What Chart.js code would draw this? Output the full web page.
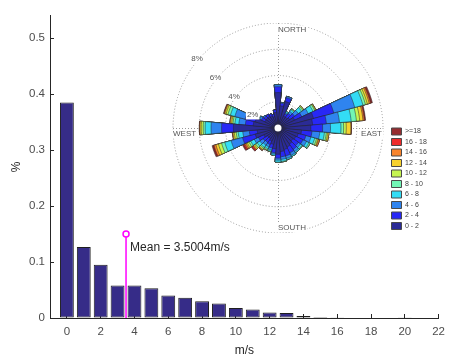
<!DOCTYPE html>
<html lang="en">
<head>
    <meta charset="UTF-8">
    <title>Wind Speed Distribution</title>
    <script src="https://cdn.jsdelivr.net/npm/chart.js"></script>
    <style>
        body {
            margin: 0;
            background: #fff;
        }
        .frame {
            position: relative;
            width: 456px;
            height: 360px;
        }
        #roseChart {
            position: absolute;
            left: 168px;
            top: 23px;
        }
    </style>
</head>
<body>
    <div class="frame">
        <canvas id="histChart" width="456" height="360"></canvas>
        <canvas id="roseChart" width="265" height="210"></canvas>
    </div>

    <script>
        // histogram of wind speed (1 m/s bins)
        const speedValues = [0, 1, 2, 3, 4, 5, 6, 7, 8, 9, 10, 11, 12, 13, 14, 15, 16, 17, 18, 19, 20, 21];
        const speedShare = [0.385, 0.127, 0.095, 0.058, 0.058, 0.053, 0.040, 0.036, 0.030, 0.026, 0.018,
                            0.015, 0.010, 0.009, 0.0035, 0.0018, 0.0012, 0.0008, 0.0010, 0, 0.0012, 0];
        const meanSpeed = 3.5004;
        const meanStemHeight = 0.15;

        // wind rose: direction sectors (degrees from north) and % per speed class
        const directions = [0, 10, 20, 30, 40, 50, 60, 70, 80, 90, 100, 110, 120, 130, 140, 150, 160, 170,
                            180, 190, 200, 210, 220, 230, 240, 250, 260, 270, 280, 290, 300, 310, 320, 330, 340, 350];
        const speedClasses = ['0 - 2', '2 - 4', '4 - 6', '6 - 8', '8 - 10', '10 - 12', '12 - 14', '14 - 16', '16 - 18', '>=18'];
        const rose0to2 = [2.7, 1.7, 2.1, 1.0, 1.0, 1.1, 1.4, 2.8, 2.65, 2.5, 1.8, 1.6, 1.5, 1.4, 1.5, 1.6, 1.7, 1.8,
                          2.0, 1.6, 1.3, 1.1, 1.0, 1.0, 1.2, 1.8, 1.6, 3.4, 1.9, 1.8, 1.1, 1.1, 1.1, 1.0, 0.9, 1.2];
        const rose2to4 = [0.45, 0.2, 0.3, 0.2, 0.35, 0.45, 0.6, 1.6, 1.05, 0.9, 0.8, 0.6, 0.6, 0.5, 0.5, 0.5, 0.5, 0.4,
                          0.3, 0.3, 0.3, 0.3, 0.35, 0.4, 0.45, 1.0, 0.6, 0.9, 0.6, 0.8, 0.3, 0.2, 0.2, 0.2, 0.2, 0.2];
        const rose4to6 = [0.15, 0.05, 0.1, 0.1, 0.2, 0.35, 0.55, 1.65, 1.0, 0.6, 0.6, 0.4, 0.3, 0.2, 0.2, 0.2, 0.2, 0.2,
                          0.15, 0.1, 0.15, 0.2, 0.25, 0.3, 0.35, 0.9, 0.5, 0.8, 0.5, 0.8, 0.15, 0.1, 0, 0, 0, 0];
        const rose6to8 = [0, 0, 0, 0.1, 0.15, 0.3, 0.4, 0.65, 0.9, 0.8, 0.35, 0.3, 0.2, 0.15, 0.1, 0.1, 0.1, 0.15,
                          0.15, 0.1, 0.1, 0.15, 0.2, 0.25, 0.3, 0.5, 0.35, 0.45, 0.3, 0.35, 0.05, 0, 0, 0, 0, 0];
        const rose8to10 = [0, 0, 0, 0, 0.07, 0.12, 0.15, 0.2, 0.4, 0.2, 0.15, 0.15, 0.1, 0.05, 0, 0, 0, 0.05,
                           0, 0, 0.05, 0.1, 0.1, 0.15, 0.15, 0.25, 0.15, 0.15, 0.15, 0.2, 0, 0, 0, 0, 0, 0];
        const rose10to12 = [0, 0, 0, 0, 0.03, 0.08, 0.07, 0.15, 0.25, 0.2, 0.1, 0.1, 0, 0, 0, 0, 0, 0,
                            0, 0, 0, 0.05, 0.1, 0.1, 0.15, 0.25, 0.15, 0.15, 0.1, 0.15, 0, 0, 0, 0, 0, 0];
        const rose12to14 = [0, 0, 0, 0, 0, 0, 0.03, 0.15, 0.25, 0.35, 0.1, 0.05, 0, 0, 0, 0, 0, 0,
                            0, 0, 0, 0, 0.05, 0.1, 0.1, 0.2, 0.1, 0.1, 0.1, 0.1, 0, 0, 0, 0, 0, 0];
        const rose14to16 = [0, 0, 0, 0, 0, 0, 0, 0.1, 0.1, 0.03, 0, 0.1, 0, 0, 0, 0, 0, 0,
                            0, 0, 0, 0, 0.05, 0.05, 0.1, 0.15, 0.05, 0.03, 0.05, 0.05, 0, 0, 0, 0, 0, 0];
        const rose16to18 = [0, 0, 0, 0, 0, 0, 0, 0.05, 0.05, 0.01, 0, 0, 0, 0, 0, 0, 0, 0,
                            0, 0, 0, 0, 0, 0.1, 0.1, 0.05, 0, 0.01, 0, 0.02, 0, 0, 0, 0, 0, 0];
        const rose18up = [0, 0, 0, 0, 0, 0, 0, 0.1, 0.05, 0.01, 0, 0, 0, 0, 0, 0, 0, 0,
                          0, 0, 0, 0, 0, 0.05, 0.1, 0.1, 0, 0.01, 0, 0.03, 0, 0, 0, 0, 0, 0];
        const ringValues = [2, 4, 6, 8];
        const compassLabels = ['NORTH', 'EAST', 'SOUTH', 'WEST'];

        const classColors = ['#2b2b96', '#2828f5', '#2f84ef', '#33dcf5', '#72f5b5',
                             '#c6f551', '#f7d12f', '#f7842d', '#ee2c2c', '#962d30'];
        const fontFamily = "'Liberation Sans', Arial, sans-serif";

        // ---------- histogram ----------
        const meanLabel = {
            id: 'meanLabel',
            afterDatasetsDraw(chart) {
                const { ctx, scales: { x, y } } = chart;
                ctx.save();
                ctx.font = '12px ' + fontFamily;
                ctx.fillStyle = '#262626';
                ctx.textBaseline = 'middle';
                ctx.fillText('Mean = ' + meanSpeed + 'm/s', x.getPixelForValue(meanSpeed) + 4, y.getPixelForValue(meanStemHeight) + 14);
                ctx.restore();
            }
        };

        const tickFont = { family: fontFamily, size: 11.5 };

        new Chart(document.getElementById('histChart'), {
            type: 'bar',
            data: {
                datasets: [
                    {
                        type: 'line',
                        data: [{ x: meanSpeed, y: 0 }, { x: meanSpeed, y: meanStemHeight }],
                        borderColor: '#ff00ff',
                        borderWidth: 1.5,
                        pointRadius: [0, 3],
                        pointBorderWidth: 1.5,
                        pointBorderColor: '#ff00ff',
                        pointBackgroundColor: '#ffffff',
                        order: 1
                    },
                    {
                        data: speedValues.map((v, i) => ({ x: v, y: speedShare[i] })),
                        backgroundColor: '#362c88',
                        borderColor: '#1e1e1e',
                        borderWidth: 1,
                        borderSkipped: false,
                        categoryPercentage: 1,
                        barPercentage: 0.82,
                        order: 2
                    }
                ]
            },
            options: {
                responsive: false,
                animation: false,
                events: [],
                layout: { padding: { top: 10, right: 8, left: 0, bottom: 0 } },
                plugins: {
                    legend: { display: false },
                    tooltip: { enabled: false }
                },
                scales: {
                    x: {
                        type: 'linear',
                        min: -1,
                        max: 22,
                        offset: false,
                        ticks: { stepSize: 2, includeBounds: false, padding: 11, color: '#4d4d4d', font: tickFont },
                        grid: { offset: false, drawOnChartArea: false, tickLength: -4, color: '#262626' },
                        border: { color: '#262626' },
                        title: { display: true, text: 'm/s', color: '#262626', font: { family: fontFamily, size: 12 }, padding: { top: 0, bottom: 2 } },
                        afterFit: s => { s.height = 42; }
                    },
                    y: {
                        min: 0,
                        max: 0.54,
                        ticks: { stepSize: 0.1, includeBounds: false, padding: 9, color: '#4d4d4d', font: tickFont },
                        grid: { drawOnChartArea: false, tickLength: -4, color: '#262626' },
                        border: { color: '#262626' },
                        title: { display: true, text: '%', color: '#262626', font: { family: fontFamily, size: 12 }, padding: { top: 9, bottom: 0 } },
                        afterFit: s => { s.width = 50; }
                    }
                }
            },
            plugins: [meanLabel]
        });

        // ---------- wind rose ----------
        const roseClasses = [rose0to2, rose2to4, rose4to6, rose6to8, rose8to10,
                             rose10to12, rose12to14, rose14to16, rose16to18, rose18up];

        // each dataset holds the running total up to its class; the smaller ones are drawn on top
        const roseSets = roseClasses.map((cls, i) => ({
            label: speedClasses[i],
            data: directions.map((d, k) => roseClasses.slice(0, i + 1).reduce((s, c) => s + c[k], 0)),
            backgroundColor: classColors[i],
            borderColor: '#262626',
            borderWidth: 0.5
        }));

        const roseDecor = {
            id: 'roseDecor',
            beforeDatasetsDraw(chart) {
                const s = chart.scales.r;
                const { ctx } = chart;
                const cx = s.xCenter, cy = s.yCenter, R = s.drawingArea;
                ctx.save();
                ctx.strokeStyle = '#9a9a9a';
                ctx.lineWidth = 1;
                ctx.setLineDash([1, 2]);
                ctx.beginPath();
                ctx.moveTo(cx + 0.5, cy - R);
                ctx.lineTo(cx + 0.5, cy + R);
                ctx.moveTo(cx - R, cy + 0.5);
                ctx.lineTo(cx + R, cy + 0.5);
                ctx.stroke();
                ctx.restore();
            },
            afterDatasetsDraw(chart) {
                const s = chart.scales.r;
                const { ctx } = chart;
                const cx = s.xCenter, cy = s.yCenter, R = s.drawingArea;
                ctx.save();

                // empty hub
                ctx.fillStyle = '#ffffff';
                ctx.beginPath();
                ctx.arc(cx, cy, 3.5, 0, Math.PI * 2);
                ctx.fill();

                const label = (text, x, y, align) => {
                    const w = ctx.measureText(text).width;
                    const left = align === 'right' ? x - w : x;
                    ctx.fillStyle = '#ffffff';
                    ctx.fillRect(left - 1, y - 4.5, w + 2, 9);
                    ctx.fillStyle = '#555555';
                    ctx.textAlign = align;
                    ctx.fillText(text, x, y);
                };

                ctx.font = '8px ' + fontFamily;
                ctx.textBaseline = 'middle';
                ringValues.forEach(v => {
                    const d = s.getDistanceFromCenterForValue(v) * Math.SQRT1_2;
                    label(v + '%', cx - d - 1, cy - d + 5.5, 'right');
                });

                label(compassLabels[0], cx, cy - R + 7, 'left');
                label(compassLabels[1], cx + R - 1, cy + 6, 'right');
                label(compassLabels[2], cx, cy + R - 5.5, 'left');
                label(compassLabels[3], cx - R, cy + 6, 'left');
                ctx.restore();
            }
        };

        new Chart(document.getElementById('roseChart'), {
            type: 'polarArea',
            data: {
                labels: directions.map(String),
                datasets: roseSets
            },
            options: {
                responsive: false,
                animation: false,
                events: [],
                layout: { padding: 0 },
                scales: {
                    r: {
                        min: 0,
                        max: 8,
                        startAngle: -5,
                        ticks: { display: false, stepSize: 2 },
                        grid: { color: '#9a9a9a', lineWidth: 1, borderDash: [1, 2] },
                        border: { dash: [1, 2] },
                        angleLines: { display: false },
                        pointLabels: { display: false }
                    }
                },
                plugins: {
                    tooltip: { enabled: false },
                    legend: {
                        position: 'right',
                        align: 'end',
                        maxWidth: 45,
                        labels: {
                            boxWidth: 10,
                            boxHeight: 7,
                            padding: 3.5,
                            color: '#444',
                            font: { family: fontFamily, size: 7 },
                            generateLabels: chart => chart.data.datasets.map((ds, i) => ({
                                text: ds.label,
                                fillStyle: ds.backgroundColor,
                                strokeStyle: '#4a4a4a',
                                lineWidth: 1,
                                fontColor: '#444',
                                hidden: false,
                                datasetIndex: i
                            })).reverse()
                        }
                    }
                }
            },
            plugins: [roseDecor]
        });
    </script>
</body>
</html>
